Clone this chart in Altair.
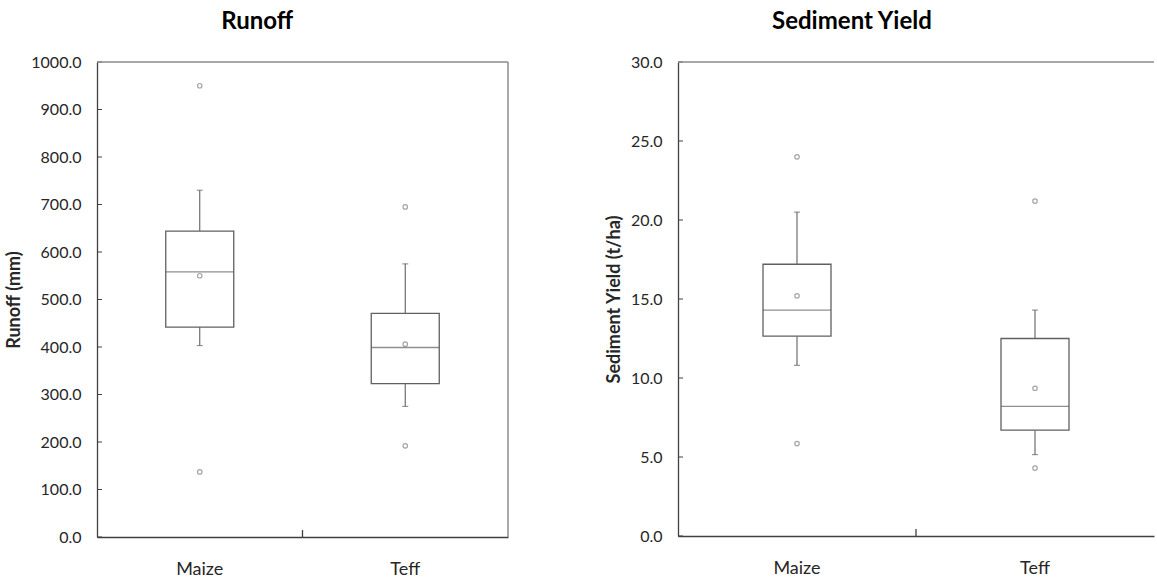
import altair as alt
import pandas as pd

crops = ["Maize", "Teff"]

# Runoff (mm)
runoff_whisker_low = [403, 275]
runoff_q1 = [442, 323]
runoff_median = [558, 399]
runoff_q3 = [644, 471]
runoff_whisker_high = [730, 575]
runoff_mean = [550, 406]
runoff_outlier_crop = ["Maize", "Maize", "Teff", "Teff"]
runoff_outliers = [950, 137, 695, 192]
runoff_ticks = [0, 100, 200, 300, 400, 500, 600, 700, 800, 900, 1000]

# Sediment yield (t/ha)
sed_whisker_low = [10.8, 5.15]
sed_q1 = [12.65, 6.7]
sed_median = [14.3, 8.2]
sed_q3 = [17.2, 12.5]
sed_whisker_high = [20.5, 14.3]
sed_mean = [15.2, 9.35]
sed_outlier_crop = ["Maize", "Maize", "Teff", "Teff"]
sed_outliers = [24.0, 5.85, 21.2, 4.3]
sed_ticks = [0, 5, 10, 15, 20, 25, 30]

FONT = "Lato"
BOX = "#606060"
PT = "#808080"
AXIS = "#404040"
FRAME = "#8c8c8c"
TXT = "#262626"


def panel(title, ytitle, wlo, q1, med, q3, whi, mean, ocrop, ovals, ticks,
          width, height, right_frame, title_dx):
    stats = pd.DataFrame({"crop": crops, "wlo": wlo, "q1": q1, "med": med,
                          "q3": q3, "whi": whi, "mean": mean})
    outl = pd.DataFrame({"crop": ocrop, "v": ovals})
    tick_df = pd.DataFrame({"v": ticks})
    dom = [ticks[0], ticks[-1]]

    yaxis = alt.Axis(values=ticks, format=".1f", ticks=False, grid=False,
                     labelPadding=16, labelFontSize=16, labelFont=FONT,
                     labelColor=TXT, domainColor=AXIS, domainWidth=1.3,
                     titleFont=FONT, titleFontSize=18, titleFontWeight="bold",
                     titleColor=TXT, titlePadding=7)

    def Y(field, t=ytitle):
        return alt.Y(f"{field}:Q", scale=alt.Scale(domain=dom, nice=False, zero=True),
                     axis=yaxis, title=t)

    xaxis = alt.Axis(title=None, labelAngle=0, ticks=False, grid=False,
                     labelPadding=23, labelFontSize=18, labelFont=FONT,
                     labelColor=TXT, domainColor=AXIS, domainWidth=1.3)
    X = alt.X("crop:N", sort=crops,
              scale=alt.Scale(domain=crops, paddingInner=0, paddingOuter=0),
              axis=xaxis)

    base = alt.Chart(stats)
    layers = [
        base.mark_rule(color=BOX, strokeWidth=1.1).encode(x=X, y=Y("wlo"), y2="q1"),
        base.mark_rule(color=BOX, strokeWidth=1.1).encode(x=X, y=Y("q3"), y2="whi"),
        base.mark_tick(color=BOX, size=6, thickness=1.1).encode(x=X, y=Y("wlo")),
        base.mark_tick(color=BOX, size=6, thickness=1.1).encode(x=X, y=Y("whi")),
        base.mark_bar(fill="white", stroke=BOX, strokeWidth=1.3, size=68).encode(
            x=X, y=Y("q1"), y2="q3"),
        base.mark_tick(color=BOX, size=68, thickness=1.3).encode(x=X, y=Y("med")),
        base.mark_point(shape="circle", filled=False, size=20, color=PT,
                        strokeWidth=1.2).encode(x=X, y=Y("mean")),
        alt.Chart(outl).mark_point(shape="circle", filled=False, size=20, color=PT,
                                   strokeWidth=1.2).encode(x=X, y=Y("v")),
        # inward y ticks
        alt.Chart(tick_df).mark_rule(color=AXIS, strokeWidth=1).encode(
            y=Y("v"), x=alt.value(0), x2=alt.value(5)),
        # inward x tick at category boundary
        base.transform_filter(alt.datum.crop == crops[1]).mark_rule(
            color=AXIS, strokeWidth=1.3).encode(
            x=alt.X("crop:N", sort=crops, bandPosition=0,
                    scale=alt.Scale(domain=crops, paddingInner=0, paddingOuter=0),
                    axis=xaxis),
            y=alt.value(height), y2=alt.value(height - 7)),
        # top frame line
        base.mark_rule(color=FRAME, strokeWidth=1).encode(
            y=alt.value(0), x=alt.value(0), x2=alt.value(width)),
    ]
    if right_frame:
        layers.append(base.mark_rule(color=FRAME, strokeWidth=1).encode(
            x=alt.value(width), y=alt.value(0), y2=alt.value(height)))

    return alt.layer(*layers).properties(
        width=width, height=height,
        title=alt.TitleParams(title, fontSize=24, font=FONT, fontWeight="bold",
                              color="black", anchor="middle", frame="bounds",
                              offset=20, dx=title_dx),
    )


left = panel("Runoff", "Runoff (mm)", runoff_whisker_low, runoff_q1, runoff_median,
             runoff_q3, runoff_whisker_high, runoff_mean, runoff_outlier_crop,
             runoff_outliers, runoff_ticks, 411, 475, True, 0)
right = panel("Sediment Yield", "Sediment Yield (t/ha)", sed_whisker_low, sed_q1,
              sed_median, sed_q3, sed_whisker_high, sed_mean, sed_outlier_crop,
              sed_outliers, sed_ticks, 476, 474, False, -28)

chart = alt.hconcat(left, right, spacing=96).properties(
    padding={"left": 5, "top": 10, "right": 0, "bottom": 0},
    background="white",
).configure_view(strokeWidth=0)

chart.save("out.html", embed_options={"renderer": "svg", "actions": False})
